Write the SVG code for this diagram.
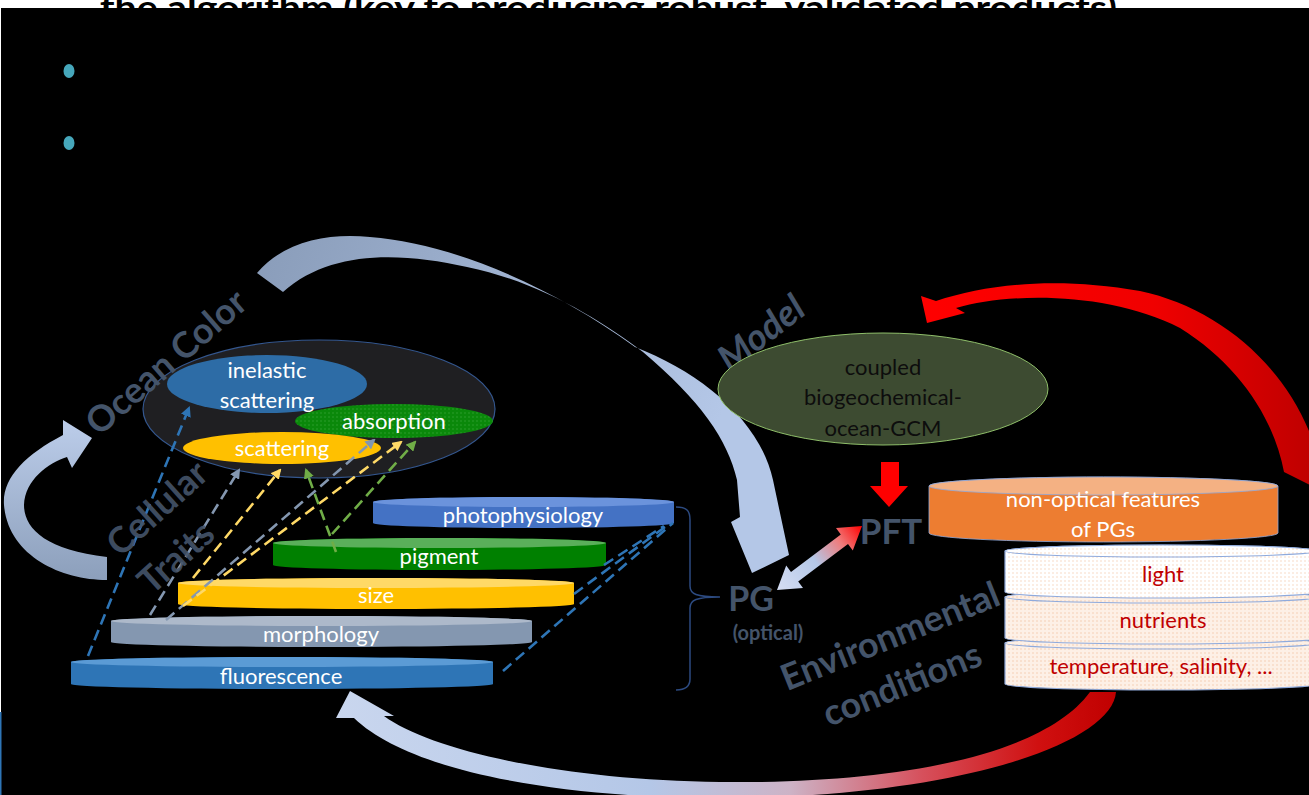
<svg xmlns="http://www.w3.org/2000/svg" width="1309" height="795" viewBox="0 0 1309 795">
<defs>
<style>
.lbl{font-family:Lato,"Open Sans","Liberation Sans",sans-serif;font-size:22px;fill:#fff;text-anchor:middle}
.dk{fill:#0d0d0d}
.red{fill:#c00000}
.big{font-family:Lato,"Open Sans","Liberation Sans",sans-serif;font-weight:bold;fill:#44546a;text-anchor:middle}
.dash{fill:none;stroke-width:2.6;stroke-dasharray:11 6}
.env{stroke:#8faadc;stroke-width:1.2}
</style>
<pattern id="pAbs" width="4" height="4" patternUnits="userSpaceOnUse"><rect width="4" height="4" fill="#0a880a"/><circle cx="1" cy="1" r="0.7" fill="#35a535"/></pattern>
<pattern id="pLight" width="4" height="4" patternUnits="userSpaceOnUse"><rect width="4" height="4" fill="#ffffff"/><circle cx="1" cy="1" r="0.7" fill="#f6cdb2"/></pattern>
<pattern id="pNut" width="4" height="4" patternUnits="userSpaceOnUse"><rect width="4" height="4" fill="#fdf0e6"/><circle cx="1" cy="1" r="0.7" fill="#f2c4a4"/></pattern>
<linearGradient id="gTop" gradientUnits="userSpaceOnUse" x1="257" y1="260" x2="720" y2="420"><stop offset="0" stop-color="#8a9dba"/><stop offset="1" stop-color="#b4c7e7"/></linearGradient>
<linearGradient id="gLoop" gradientUnits="userSpaceOnUse" x1="0" y1="420" x2="0" y2="580"><stop offset="0" stop-color="#bccdea"/><stop offset="1" stop-color="#8c9fbb"/></linearGradient>
<linearGradient id="gBot" gradientUnits="userSpaceOnUse" x1="340" y1="0" x2="1116" y2="0"><stop offset="0" stop-color="#c9d6ee"/><stop offset="0.4" stop-color="#b4c7e7"/><stop offset="0.58" stop-color="#cdb3c6"/><stop offset="0.75" stop-color="#d6505c"/><stop offset="0.9" stop-color="#d01010"/><stop offset="1" stop-color="#c00000"/></linearGradient>
<linearGradient id="gRed" gradientUnits="userSpaceOnUse" x1="920" y1="0" x2="1309" y2="0"><stop offset="0" stop-color="#ff0000"/><stop offset="0.6" stop-color="#f00000"/><stop offset="1" stop-color="#c00000"/></linearGradient>
<linearGradient id="gDbl" gradientUnits="userSpaceOnUse" x1="777" y1="590" x2="862" y2="526"><stop offset="0" stop-color="#d6def3"/><stop offset="0.45" stop-color="#b4c7e7"/><stop offset="0.75" stop-color="#f07a7a"/><stop offset="1" stop-color="#ff0000"/></linearGradient>
<marker id="mBlue" viewBox="0 0 10 10" refX="8" refY="5" markerWidth="4" markerHeight="4" orient="auto"><path d="M0,0 L10,5 L0,10 Z" fill="#2e75b6"/></marker>
<marker id="mGrey" viewBox="0 0 10 10" refX="8" refY="5" markerWidth="4" markerHeight="4" orient="auto"><path d="M0,0 L10,5 L0,10 Z" fill="#8497b0"/></marker>
<marker id="mYel" viewBox="0 0 10 10" refX="8" refY="5" markerWidth="4" markerHeight="4" orient="auto"><path d="M0,0 L10,5 L0,10 Z" fill="#ffd966"/></marker>
<marker id="mGrn" viewBox="0 0 10 10" refX="8" refY="5" markerWidth="4" markerHeight="4" orient="auto"><path d="M0,0 L10,5 L0,10 Z" fill="#70ad47"/></marker>
</defs>

<rect x="0" y="0" width="1309" height="795" fill="#ffffff"/>
<text x="100" y="20" textLength="1017" lengthAdjust="spacingAndGlyphs" font-family="Lato,'Open Sans','Liberation Sans',sans-serif" font-size="34" font-weight="bold" fill="#000">the algorithm (key to producing robust, validated products)</text>
<rect x="1" y="8" width="1308" height="787" fill="#000"/>
<rect x="0" y="712" width="1.5" height="83" fill="#2e75b6"/>
<ellipse cx="69" cy="71" rx="5.5" ry="7" fill="#46a7bb"/>
<ellipse cx="69" cy="143" rx="5.5" ry="7" fill="#46a7bb"/>

<g id="arrows-big">
<path id="arrow-top" d="M257,273 C285,240 330,233 370,237 C450,243 550,285 635,347 C700,372 760,420 773,480 L780,513 L789,555 L752,573 L731,522 L740,517 L737,480 C728,440 700,400 643,352 C600,320 540,282 467,267 C400,252 330,250 283,292 Z" fill="url(#gTop)"/>
<path id="arrow-loop" d="M107,580 C60,580 8,555 4,505 C2,478 25,455 63,435 L63,420 L92,438 L72,468 L67,457 C48,463 25,480 24,505 C24,528 45,550 107,557 Z" fill="url(#gLoop)"/>
</g>

<g id="ocean-color">
<ellipse cx="319" cy="409" rx="176" ry="69" fill="#1f1f22" stroke="#34578f" stroke-width="1.2"/>
<g id="inelastic"><ellipse cx="267" cy="384" rx="100" ry="29" fill="#2d6ca6"/>
<text class="lbl" x="267" y="378">inelastic</text><text class="lbl" x="267" y="408">scattering</text></g>
<g id="absorption"><ellipse cx="394" cy="421" rx="99" ry="17" fill="url(#pAbs)"/>
<text class="lbl" x="394" y="429">absorption</text></g>
<g id="scattering"><ellipse cx="282" cy="448" rx="99" ry="16" fill="#ffc000"/>
<text class="lbl" x="282" y="456">scattering</text></g>
</g>

<g id="traits">
<g id="photophysiology"><path d="M373,502 A150.5,5 0 0 1 674,502 L674,523 A150.5,5 0 0 1 373,523 Z" fill="#4472c4"/><ellipse cx="523.5" cy="502" rx="150.5" ry="5" fill="#6b93dc"/>
<text class="lbl" x="523" y="523">photophysiology</text></g>
<g id="pigment"><path d="M273,543 A166.5,5 0 0 1 606,543 L606,565 A166.5,5 0 0 1 273,565 Z" fill="#008000"/><ellipse cx="439.5" cy="543" rx="166.5" ry="5" fill="#5aaf5a"/>
<text class="lbl" x="439" y="564">pigment</text></g>
<g id="size"><path d="M178,583 A198,5 0 0 1 574,583 L574,604 A198,5 0 0 1 178,604 Z" fill="#ffc000"/><ellipse cx="376" cy="583" rx="198" ry="5" fill="#ffd966"/>
<text class="lbl" x="376" y="603">size</text></g>
<g id="morphology"><path d="M111,621 A210.5,5 0 0 1 532,621 L532,642 A210.5,5 0 0 1 111,642 Z" fill="#8497b0"/><ellipse cx="321.5" cy="621" rx="210.5" ry="5" fill="#adb9ca"/>
<text class="lbl" x="321" y="642">morphology</text></g>
<g id="fluorescence"><path d="M71,662 A211,5 0 0 1 493,662 L493,684 A211,5 0 0 1 71,684 Z" fill="#2e75b6"/><ellipse cx="282" cy="662" rx="211" ry="5" fill="#5b9bd5"/>
<text class="lbl" x="281" y="684">fluorescence</text></g>
</g>

<g id="connectors">
<line class="dash" x1="88" y1="656" x2="189" y2="408" stroke="#2e75b6" marker-end="url(#mBlue)"/>
<line class="dash" x1="150" y1="615" x2="239" y2="470" stroke="#8497b0" marker-end="url(#mGrey)"/>
<line class="dash" x1="193" y1="578" x2="280" y2="470" stroke="#ffd966" marker-end="url(#mYel)"/>
<line class="dash" x1="166" y1="620" x2="374" y2="440" stroke="#8497b0" marker-end="url(#mGrey)"/>
<line class="dash" x1="183" y1="606" x2="401" y2="442" stroke="#ffd966" marker-end="url(#mYel)"/>
<line class="dash" x1="336" y1="552" x2="306" y2="470" stroke="#70ad47" marker-end="url(#mGrn)"/>
<line class="dash" x1="332" y1="534" x2="415" y2="442" stroke="#70ad47" marker-end="url(#mGrn)"/>
<line class="dash" x1="503" y1="671" x2="673" y2="523" stroke="#2e75b6"/>
<line class="dash" x1="574" y1="594" x2="669" y2="524" stroke="#2e75b6"/>
<line class="dash" x1="604" y1="565" x2="664" y2="526" stroke="#2e75b6"/>
<path id="brace" d="M676,507 C686,507 690,510 690,520 L690,586 C690,594 696,597 720,597 C696,597 690,600 690,608 L690,679 C690,686 686,690 676,690" fill="none" stroke="#2c4a80" stroke-width="1.5"/>
<path id="arrow-dbl" d="M777,590 L803,588 L798.2,581.6 L848,544 L852.8,550.4 L862,526 L836,528 L840.8,534.4 L791,572 L786.2,565.6 Z" fill="url(#gDbl)"/>
<path id="arrow-down" d="M881,462 L899,462 L899,486 L908,486 L889,507 L870,486 L881,486 Z" fill="#ff0000"/>
<path id="arrow-red" d="M1284,472 C1274,418 1238,364 1180,328 C1110,292 1010,292 956,308 L965,313 L927,323 L921,296 L936,301 C990,283 1060,277 1140,291 C1220,308 1290,368 1316,450 L1312,486 Z" fill="url(#gRed)"/>
<path id="arrow-bottom" d="M384,716 C430,750 560,780 720,782 C880,784 1040,760 1090,692 L1116,692 C1112,745 950,798 720,798 C560,798 410,772 354,718 L336,718 L350,691 L394,716 Z" fill="url(#gBot)"/>
</g>

<g id="labels">
<text class="big" font-size="36" transform="translate(166,362) rotate(-41)" dy="0.35em">Ocean Color</text>
<text class="big" font-size="37" font-style="italic" transform="translate(761,333) rotate(-38)" dy="0.35em">Model</text>
<text class="big" font-size="36" opacity="0.9" transform="translate(157,508) rotate(-42)" dy="0.35em">Cellular</text>
<text class="big" font-size="36" opacity="0.9" transform="translate(176,557) rotate(-42)" dy="0.35em">Traits</text>
<text class="big" font-size="36" transform="translate(890,636) rotate(-22)" dy="0.35em">Environmental</text>
<text class="big" font-size="36" transform="translate(902,684) rotate(-22)" dy="0.35em">conditions</text>
<g id="pg"><text class="big" font-size="34" x="751" y="611">PG</text>
<text class="big" font-size="20" font-weight="normal" x="768" y="640">(optical)</text></g>
<text id="pft" class="big" font-size="35" x="891" y="544">PFT</text>
</g>

<g id="model">
<ellipse cx="883" cy="389" rx="165" ry="56" fill="#3d4b31" stroke="#8fbf6a" stroke-width="1"/>
<text class="lbl dk" x="883" y="375">coupled</text>
<text class="lbl dk" x="883" y="405">biogeochemical-</text>
<text class="lbl dk" x="883" y="436">ocean-GCM</text>
</g>

<g id="non-optical">
<path d="M929,486 A174.5,9 0 0 1 1278,486 L1278,533 A174.5,9 0 0 1 929,533 Z" fill="#ed7d31" stroke="#8faadc" stroke-width="0.8"/>
<ellipse cx="1103.5" cy="486" rx="174.5" ry="9" fill="#f4b183" stroke="#8faadc" stroke-width="0.8"/>
<text class="lbl" x="1103" y="507">non-optical features</text>
<text class="lbl" x="1103" y="537">of PGs</text>
</g>

<g id="env">
<g id="temperature"><path class="env" d="M1005,643 A156.5,6 0 0 1 1318,643 L1318,684 A156.5,6 0 0 1 1005,684 Z" fill="url(#pNut)"/><ellipse class="env" cx="1161.5" cy="643" rx="156.5" ry="6" fill="url(#pNut)"/>
<text class="lbl red" x="1161" y="674">temperature, salinity, ...</text></g>
<g id="nutrients"><path class="env" d="M1005,597 A156.5,6 0 0 1 1318,597 L1318,638 A156.5,6 0 0 1 1005,638 Z" fill="url(#pNut)"/><ellipse class="env" cx="1161.5" cy="597" rx="156.5" ry="6" fill="url(#pNut)"/>
<text class="lbl red" x="1163" y="628">nutrients</text></g>
<g id="light"><path class="env" d="M1005,551 A156.5,6 0 0 1 1318,551 L1318,592 A156.5,6 0 0 1 1005,592 Z" fill="url(#pLight)"/><ellipse class="env" cx="1161.5" cy="551" rx="156.5" ry="6" fill="url(#pLight)"/>
<text class="lbl red" x="1163" y="582">light</text></g>
</g>
</svg>
